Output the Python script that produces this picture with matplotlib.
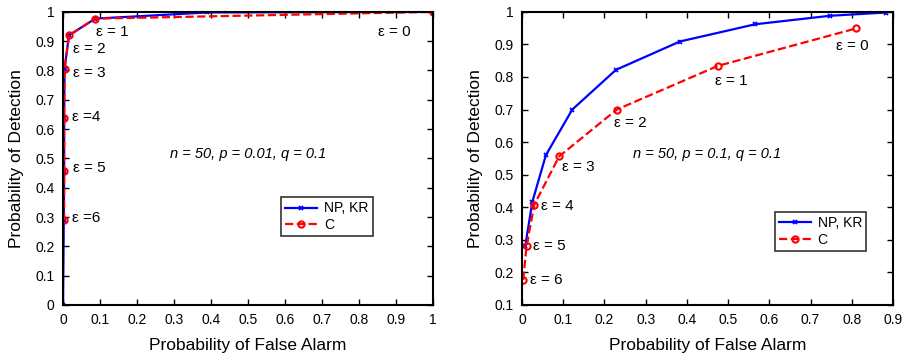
import matplotlib.pyplot as plt

plt.rcParams['font.family'] = ['Liberation Sans', 'DejaVu Sans']

# left panel: n = 50, p = 0.01, q = 0.1
pfa_np1 = [0.0, 0.002, 0.003, 0.003, 0.004, 0.016, 0.087, 0.39, 1.0]
pd_np1 = [0.0, 0.29, 0.457, 0.639, 0.804, 0.92, 0.977, 0.998, 1.0]
pfa_c1 = [0.003, 0.003, 0.003, 0.004, 0.016, 0.087, 1.0]
pd_c1 = [0.29, 0.457, 0.639, 0.804, 0.92, 0.977, 1.0]
eps_labels1 = ['ε = 1', 'ε = 2', 'ε = 3', 'ε =4', 'ε = 5', 'ε =6', 'ε = 0']
eps_pos1 = [(0.09, 0.93), (0.027, 0.873), (0.027, 0.79), (0.024, 0.64),
            (0.027, 0.467), (0.024, 0.297), (0.85, 0.93)]

# right panel: n = 50, p = 0.1, q = 0.1
pfa_np2 = [0.008, 0.025, 0.058, 0.122, 0.228, 0.383, 0.566, 0.747, 0.882]
pd_np2 = [0.281, 0.416, 0.56, 0.70, 0.822, 0.909, 0.962, 0.988, 0.998]
pfa_c2 = [0.003, 0.011, 0.03, 0.09, 0.23, 0.475, 0.81]
pd_c2 = [0.177, 0.28, 0.408, 0.556, 0.70, 0.834, 0.949]
eps_labels2 = ['ε = 6', 'ε = 5', 'ε = 4', 'ε = 3', 'ε = 2', 'ε = 1', 'ε = 0']
eps_pos2 = [(0.019, 0.177), (0.026, 0.28), (0.047, 0.404), (0.096, 0.523),
            (0.224, 0.658), (0.469, 0.788), (0.762, 0.896)]

fig = plt.figure(figsize=(9.07, 3.6), dpi=100)
ax1 = fig.add_axes([0.0695, 0.153, 0.408, 0.814])
ax2 = fig.add_axes([0.5755, 0.153, 0.409, 0.814])


def draw(ax, x1, y1, x2, y2, labels, pos, note, legloc):
    ax.plot(x1, y1, '-', color='blue', lw=1.6, marker='x', ms=3, mew=1.3,
            label='NP, KR')
    ax.plot(x2, y2, '--', color='red', lw=1.6, marker='o', ms=4.5,
            mfc='none', mew=1.5, label='C')
    for t, (x, y) in zip(labels, pos):
        ax.text(x, y, t, fontsize=11, va='center', ha='left')
    ax.text(0.5, 0.515, note, transform=ax.transAxes, fontsize=10.5,
            style='italic', ha='center', va='center')
    leg = ax.legend(loc='lower left', bbox_to_anchor=legloc, fontsize=10,
                    frameon=True, fancybox=False, edgecolor='black',
                    handlelength=2.3, borderpad=0.3, labelspacing=0.2,
                    handletextpad=0.5)
    leg.get_frame().set_linewidth(1.2)
    ax.tick_params(direction='in', top=True, right=True, labelsize=10,
                   length=4, width=1, pad=6)
    for s in ax.spines.values():
        s.set_linewidth(1.5)
    ax.set_xlabel('Probability of False Alarm', fontsize=12.5, labelpad=8)
    ax.set_ylabel('Probability of Detection', fontsize=12.5, labelpad=8)


draw(ax1, pfa_np1, pd_np1, pfa_c1, pd_c1, eps_labels1, eps_pos1,
     'n = 50, p = 0.01, q = 0.1', (0.57, 0.21))
ax1.set_xlim(0, 1)
ax1.set_ylim(0, 1)
ax1.set_xticks([i / 10 for i in range(11)])
ax1.set_xticklabels(['0', '0.1', '0.2', '0.3', '0.4', '0.5', '0.6', '0.7', '0.8', '0.9', '1'])
ax1.set_yticks([i / 10 for i in range(11)])
ax1.set_yticklabels(['0', '0.1', '0.2', '0.3', '0.4', '0.5', '0.6', '0.7', '0.8', '0.9', '1'])

draw(ax2, pfa_np2, pd_np2, pfa_c2, pd_c2, eps_labels2, eps_pos2,
     'n = 50, p = 0.1, q = 0.1', (0.662, 0.16))
ax2.set_xlim(0, 0.9)
ax2.set_ylim(0.1, 1)
ax2.set_xticks([i / 10 for i in range(10)])
ax2.set_xticklabels(['0', '0.1', '0.2', '0.3', '0.4', '0.5', '0.6', '0.7', '0.8', '0.9'])
ax2.set_yticks([i / 10 for i in range(1, 11)])
ax2.set_yticklabels(['0.1', '0.2', '0.3', '0.4', '0.5', '0.6', '0.7', '0.8', '0.9', '1'])

fig.savefig('out.png', dpi=100)
